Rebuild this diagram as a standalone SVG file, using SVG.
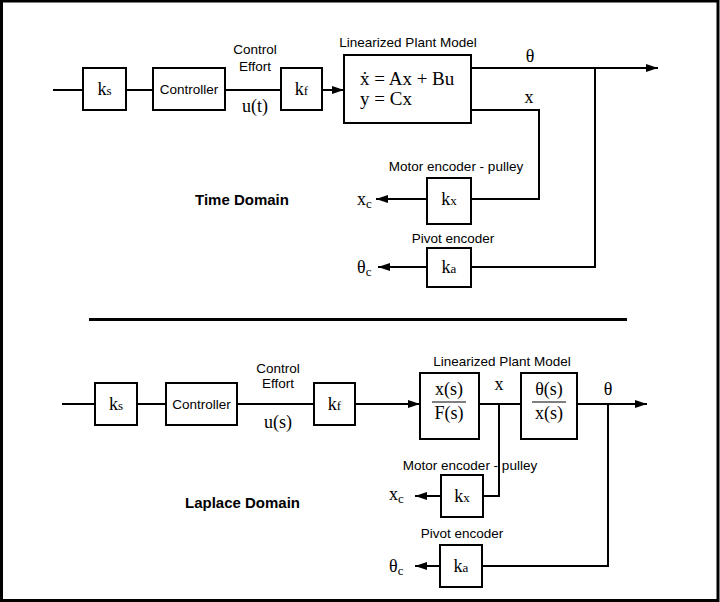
<svg xmlns="http://www.w3.org/2000/svg" width="720" height="602" viewBox="0 0 720 602">
<style>
.box{fill:#fff;stroke:#000;stroke-width:2}
.ln{fill:none;stroke:#000;stroke-width:2}
.sans{font-family:"Liberation Sans",Arial,sans-serif;font-size:13.5px;fill:#000}
.bold{font-family:"Liberation Sans",Arial,sans-serif;font-size:15px;font-weight:bold;fill:#000}
.ser{font-family:"Liberation Serif","Times New Roman",serif;font-size:18px;fill:#000}
.eq{font-size:19px}
.sub{font-size:13px}
</style>
<defs>
<marker id="ah" markerWidth="12" markerHeight="8" refX="12" refY="4" orient="auto" markerUnits="userSpaceOnUse">
<path d="M0,0 L12,4 L0,8 Z" fill="#000"/>
</marker>
</defs>
<rect x="1.5" y="1" width="716.5" height="599.5" fill="#fff" stroke="#000" stroke-width="3"/>
<line x1="89" y1="319.5" x2="627" y2="319.5" stroke="#000" stroke-width="3"/>
<g id="connectors">
<line class="ln" x1="53" y1="90" x2="83" y2="90"/>
<line class="ln" x1="126" y1="90" x2="153" y2="90"/>
<line class="ln" x1="225" y1="90" x2="281" y2="90"/>
<line class="ln" x1="322" y1="90" x2="344" y2="90" marker-end="url(#ah)"/>
<line class="ln" x1="471" y1="68" x2="658" y2="68" marker-end="url(#ah)"/>
<polyline class="ln" points="471,110 539,110 539,199 471,199"/>
<line class="ln" x1="427" y1="199" x2="376" y2="199" marker-end="url(#ah)"/>
<polyline class="ln" points="595,68 595,267 471,267"/>
<line class="ln" x1="427" y1="267" x2="378" y2="267" marker-end="url(#ah)"/>
<line class="ln" x1="62" y1="404" x2="95" y2="404"/>
<line class="ln" x1="137" y1="404" x2="166" y2="404"/>
<line class="ln" x1="237" y1="404" x2="314" y2="404"/>
<line class="ln" x1="355" y1="404" x2="420" y2="404" marker-end="url(#ah)"/>
<line class="ln" x1="479" y1="404" x2="521" y2="404"/>
<line class="ln" x1="577" y1="404" x2="647" y2="404" marker-end="url(#ah)"/>
<polyline class="ln" points="499,404 499,496 483,496"/>
<line class="ln" x1="441" y1="496" x2="415" y2="496" marker-end="url(#ah)"/>
<polyline class="ln" points="608,404 608,566 482,566"/>
<line class="ln" x1="440" y1="566" x2="415" y2="566" marker-end="url(#ah)"/>
</g>
<g id="labels-top">
<text class="sans" x="255" y="54" text-anchor="middle">Control</text>
<text class="sans" x="255" y="71" text-anchor="middle">Effort</text>
<text class="ser" x="255" y="112" text-anchor="middle">u(t)</text>
<text class="sans" x="408" y="47" text-anchor="middle">Linearized Plant Model</text>
<text class="ser" x="530" y="62" text-anchor="middle">θ</text>
<text class="ser" x="529" y="103" text-anchor="middle">x</text>
<text class="sans" x="456" y="171" text-anchor="middle">Motor encoder - pulley</text>
<text class="sans" x="453" y="243" text-anchor="middle">Pivot encoder</text>
<text class="ser" x="357" y="205">x<tspan class="sub" dy="3">c</tspan></text>
<text class="ser" x="357" y="273">θ<tspan class="sub" dy="3">c</tspan></text>
<text class="bold" x="195" y="205">Time Domain</text>
</g>
<g id="labels-bottom">
<text class="sans" x="278" y="373" text-anchor="middle">Control</text>
<text class="sans" x="278" y="388" text-anchor="middle">Effort</text>
<text class="ser" x="278" y="428" text-anchor="middle">u(s)</text>
<text class="sans" x="502" y="366" text-anchor="middle">Linearized Plant Model</text>
<text class="ser" x="499" y="390" text-anchor="middle">x</text>
<text class="ser" x="608" y="395" text-anchor="middle">θ</text>
<text class="sans" x="470" y="470" text-anchor="middle">Motor encoder - pulley</text>
<text class="sans" x="462" y="538" text-anchor="middle">Pivot encoder</text>
<text class="ser" x="389" y="500">x<tspan class="sub" dy="3">c</tspan></text>
<text class="ser" x="389" y="572">θ<tspan class="sub" dy="3">c</tspan></text>
<text class="bold" x="185" y="508">Laplace Domain</text>
</g>
<g id="ks-top"><rect class="box" x="83" y="68" width="43" height="42"/><text class="ser" x="104.5" y="95" text-anchor="middle">k<tspan class="sub">s</tspan></text></g>
<g id="controller-top"><rect class="box" x="153" y="68" width="72" height="42"/><text class="sans" x="189" y="94" text-anchor="middle">Controller</text></g>
<g id="kf-top"><rect class="box" x="281" y="68" width="41" height="42"/><text class="ser" x="301.5" y="95" text-anchor="middle">k<tspan class="sub">f</tspan></text></g>
<g id="plant-top"><rect class="box" x="344" y="55" width="127" height="68"/>
<text class="ser eq" x="360" y="85">ẋ = Ax + Bu</text>
<text class="ser eq" x="360" y="105">y = Cx</text></g>
<g id="kx-top"><rect class="box" x="427" y="178" width="44" height="46"/><text class="ser" x="449" y="205" text-anchor="middle">k<tspan class="sub">x</tspan></text></g>
<g id="ka-top"><rect class="box" x="427" y="248" width="44" height="39"/><text class="ser" x="449" y="273" text-anchor="middle">k<tspan class="sub">a</tspan></text></g>
<g id="ks-bot"><rect class="box" x="95" y="383" width="42" height="42"/><text class="ser" x="116" y="410" text-anchor="middle">k<tspan class="sub">s</tspan></text></g>
<g id="controller-bot"><rect class="box" x="166" y="383" width="71" height="42"/><text class="sans" x="201.5" y="409" text-anchor="middle">Controller</text></g>
<g id="kf-bot"><rect class="box" x="314" y="383" width="41" height="42"/><text class="ser" x="334.5" y="410" text-anchor="middle">k<tspan class="sub">f</tspan></text></g>
<g id="plant1-bot"><rect class="box" x="420" y="373" width="59" height="66"/>
<text class="ser" x="449" y="395" text-anchor="middle">x(s)</text>
<line x1="432" y1="402" x2="466" y2="402" stroke="#000" stroke-width="1.2"/>
<text class="ser" x="449" y="419" text-anchor="middle">F(s)</text></g>
<g id="plant2-bot"><rect class="box" x="521" y="373" width="56" height="66"/>
<text class="ser" x="549" y="395" text-anchor="middle">θ(s)</text>
<line x1="532" y1="402" x2="566" y2="402" stroke="#000" stroke-width="1.2"/>
<text class="ser" x="549" y="419" text-anchor="middle">x(s)</text></g>
<g id="kx-bot"><rect class="box" x="441" y="475" width="42" height="42"/><text class="ser" x="462" y="502" text-anchor="middle">k<tspan class="sub">x</tspan></text></g>
<g id="ka-bot"><rect class="box" x="440" y="545" width="42" height="42"/><text class="ser" x="461" y="572" text-anchor="middle">k<tspan class="sub">a</tspan></text></g>
</svg>
